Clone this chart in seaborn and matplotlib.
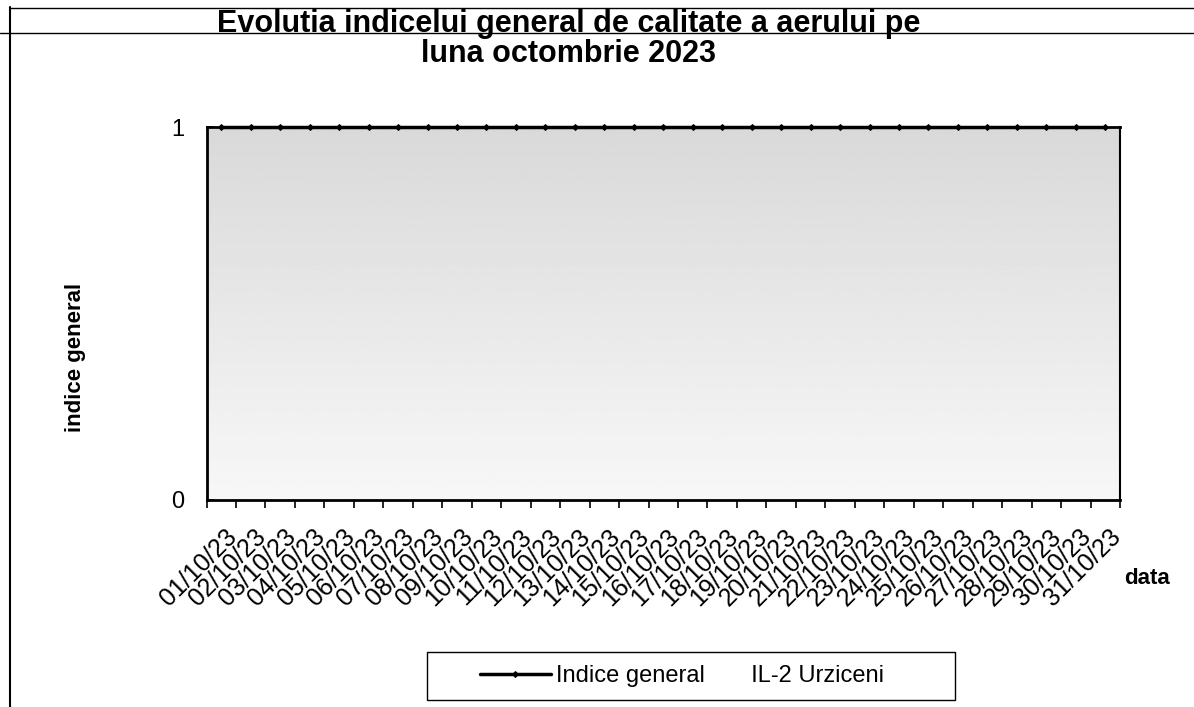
import numpy as np
import pandas as pd
import matplotlib
matplotlib.use("Agg")
import matplotlib.pyplot as plt
import seaborn as sns
from matplotlib.lines import Line2D
from matplotlib.patches import Rectangle

# chart data
dates = ["01/10/23", "02/10/23", "03/10/23", "04/10/23", "05/10/23", "06/10/23",
         "07/10/23", "08/10/23", "09/10/23", "10/10/23", "11/10/23", "12/10/23",
         "13/10/23", "14/10/23", "15/10/23", "16/10/23", "17/10/23", "18/10/23",
         "19/10/23", "20/10/23", "21/10/23", "22/10/23", "23/10/23", "24/10/23",
         "25/10/23", "26/10/23", "27/10/23", "28/10/23", "29/10/23", "30/10/23",
         "31/10/23"]
indice = [1, 1, 1, 1, 1, 1, 1, 1, 1, 1, 1, 1, 1, 1, 1, 1,
          1, 1, 1, 1, 1, 1, 1, 1, 1, 1, 1, 1, 1, 1, 1]
y_ticks = [0, 1]
series_name = "Indice general       IL-2 Urziceni"

df = pd.DataFrame({"pos": np.arange(len(dates)), "data": dates, "indice": indice})

sns.set_style("white")
plt.rcParams['font.family'] = ['Liberation Sans', 'DejaVu Sans']
plt.rcParams['text.color'] = 'black'
plt.rcParams['axes.labelcolor'] = 'black'
plt.rcParams['xtick.color'] = 'black'
plt.rcParams['ytick.color'] = 'black'

fig = plt.figure(figsize=(11.94, 7.07), dpi=100)
ax = fig.add_axes([0.173, 0.293, 0.765, 0.527])

# gray plot-area fill (scanned look: darker at top)
grad = np.linspace(0.85, 0.97, 256).reshape(-1, 1)
ax.imshow(grad, extent=[0, 1, 0, 1], transform=ax.transAxes, cmap="gray",
          vmin=0, vmax=1, aspect="auto", zorder=0)

sns.lineplot(data=df, x="pos", y="indice", ax=ax, color="black", linewidth=2.5,
             marker="D", markersize=3, markeredgecolor="black",
             markerfacecolor="black", label=series_name, clip_on=False, zorder=5)

ax.set_xlim(-0.5, len(dates) - 0.5)
ax.set_ylim(0, 1)
ax.set_yticks(y_ticks)
ax.set_yticklabels([str(v) for v in y_ticks], fontsize=17)
# labels end at the right-hand category boundary, like the Excel original
ax.set_xticks(df["pos"] + 0.4)
ax.set_xticklabels(df["data"], rotation=45, ha="right", va="center",
                   rotation_mode="anchor", fontsize=18)
ax.set_xticks(np.arange(len(dates) + 1) - 0.5, minor=True)
ax.tick_params(axis="x", which="major", length=0, pad=24)
ax.tick_params(axis="x", which="minor", length=6, width=1.2, direction="out",
               color="black", bottom=True)
ax.tick_params(axis="y", which="major", length=5, width=1.2, direction="in",
               color="black", left=True, pad=16)

for s in ax.spines.values():
    s.set_color("black")
    s.set_linewidth(2)
ax.spines["right"].set_linewidth(1.5)

ax.set_xlabel("")
ax.set_ylabel("")
fig.text(0.063, 0.495, "indice general", fontsize=16, fontweight="bold",
         rotation=90, ha="center", va="center")
fig.text(0.961, 0.182, "data", fontsize=16, fontweight="bold", ha="center", va="center")

fig.text(0.476, 0.966, "Evolutia indicelui general de calitate a aerului pe",
         fontsize=22, fontweight="bold", ha="center", va="center")
fig.text(0.476, 0.924, "luna octombrie 2023",
         fontsize=22, fontweight="bold", ha="center", va="center")

leg = ax.legend(loc="center", bbox_to_anchor=(0.571, 0.044),
                bbox_transform=fig.transFigure, frameon=False, fontsize=17,
                handlelength=3, handletextpad=0.2, borderaxespad=0)
fig.add_artist(Rectangle((0.3576, 0.0099), 0.4422, 0.0679, transform=fig.transFigure,
                         fill=False, edgecolor="black", linewidth=1))

# page frame lines from the scan
fig.add_artist(Line2D([0.008, 1.0], [0.988, 0.988], color="black", lw=1))
fig.add_artist(Line2D([0.0, 1.0], [0.953, 0.953], color="black", lw=1))
fig.add_artist(Line2D([0.008, 0.008], [0.0, 0.99], color="black", lw=1.5))

fig.savefig("out.png", dpi=100, facecolor="white")
